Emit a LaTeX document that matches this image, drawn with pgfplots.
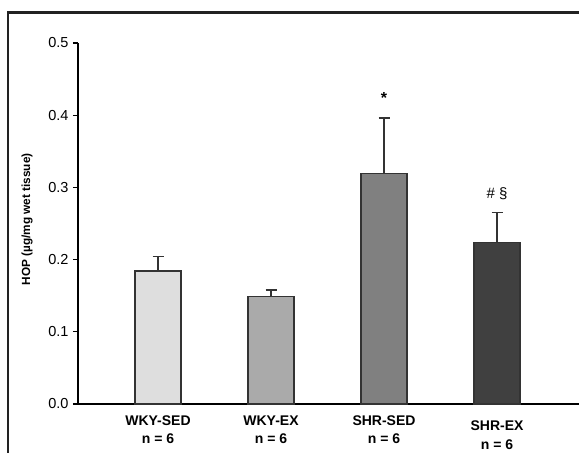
\documentclass[border=0pt]{standalone}
\usepackage{fontspec}
\setmainfont{Liberation Sans}
\usepackage{pgfplots}
\pgfplotsset{compat=1.18}

\definecolor{frame}{HTML}{222222}
\definecolor{edge}{HTML}{333333}
\definecolor{cA}{HTML}{DEDEDE}
\definecolor{cB}{HTML}{AAAAAA}
\definecolor{cC}{HTML}{808080}
\definecolor{cD}{HTML}{404040}

\pgfplotsset{
  errbar/.style={
    draw=edge, line width=1.4pt,
    error bars/y dir=plus, error bars/y explicit,
    error bars/error bar style={line width=1.3pt, draw=edge},
    error bars/error mark options={rotate=90, mark size=5.5pt, line width=1.3pt, draw=edge}
  }
}

\begin{document}
\begin{tikzpicture}
\useasboundingbox (0,0) rectangle (579pt,453pt);
\clip (0,0) rectangle (579pt,453pt);
\begin{axis}[
    at={(78pt,49pt)}, anchor=south west,
    x=113pt, y=722pt,
    xmin=0.292, xmax=4.9, ymin=0, ymax=0.5,
    axis lines*=left,
    axis line style={line width=1.2pt, black},
    xtick=\empty,
    ytick={0,0.1,...,0.5},
    tick align=outside,
    major tick length=5pt,
    tick style={line width=1.1pt, black},
    yticklabels={0.0,0.1,0.2,0.3,0.4,0.5},
    yticklabel style={font=\fontsize{14.5}{16}\selectfont, xshift=-1pt},
    ybar, bar width=46pt, bar shift=0pt,
    clip=false,
]
\addplot[errbar, fill=cA] coordinates {(1,0.184) +- (0,0.020)};
\addplot[errbar, fill=cB] coordinates {(2,0.149) +- (0,0.009)};
\addplot[errbar, fill=cC] coordinates {(3,0.319) +- (0,0.077)};
\addplot[errbar, fill=cD] coordinates {(4,0.224) +- (0,0.041)};

\node[font=\fontsize{16}{16}\bfseries] at (axis cs:3,0.424) {*};
\node[font=\fontsize{15}{16}\selectfont] at (axis cs:4,0.291) {\# §};

\node[font=\fontsize{14}{16}\bfseries] at (axis cs:1,0) [yshift=-17pt] {WKY-SED};
\node[font=\fontsize{14}{16}\bfseries] at (axis cs:1,0) [yshift=-35pt] {n = 6};
\node[font=\fontsize{14}{16}\bfseries] at (axis cs:2,0) [yshift=-17pt] {WKY-EX};
\node[font=\fontsize{14}{16}\bfseries] at (axis cs:2,0) [yshift=-35pt] {n = 6};
\node[font=\fontsize{14}{16}\bfseries] at (axis cs:3,0) [yshift=-17pt] {SHR-SED};
\node[font=\fontsize{14}{16}\bfseries] at (axis cs:3,0) [yshift=-35pt] {n = 6};
\node[font=\fontsize{14}{16}\bfseries] at (axis cs:4,0) [yshift=-22pt] {SHR-EX};
\node[font=\fontsize{14}{16}\bfseries] at (axis cs:4,0) [yshift=-41pt] {n = 6};
\end{axis}
\node[rotate=90, font=\fontsize{11.8}{14}\bfseries] at (27pt,233.5pt) {HOP (µg/mg wet tissue)};
\draw[frame, line width=2.6pt] (8pt,-20pt) -- (8pt,440.5pt) -- (620pt,440.5pt);
\end{tikzpicture}
\end{document}
